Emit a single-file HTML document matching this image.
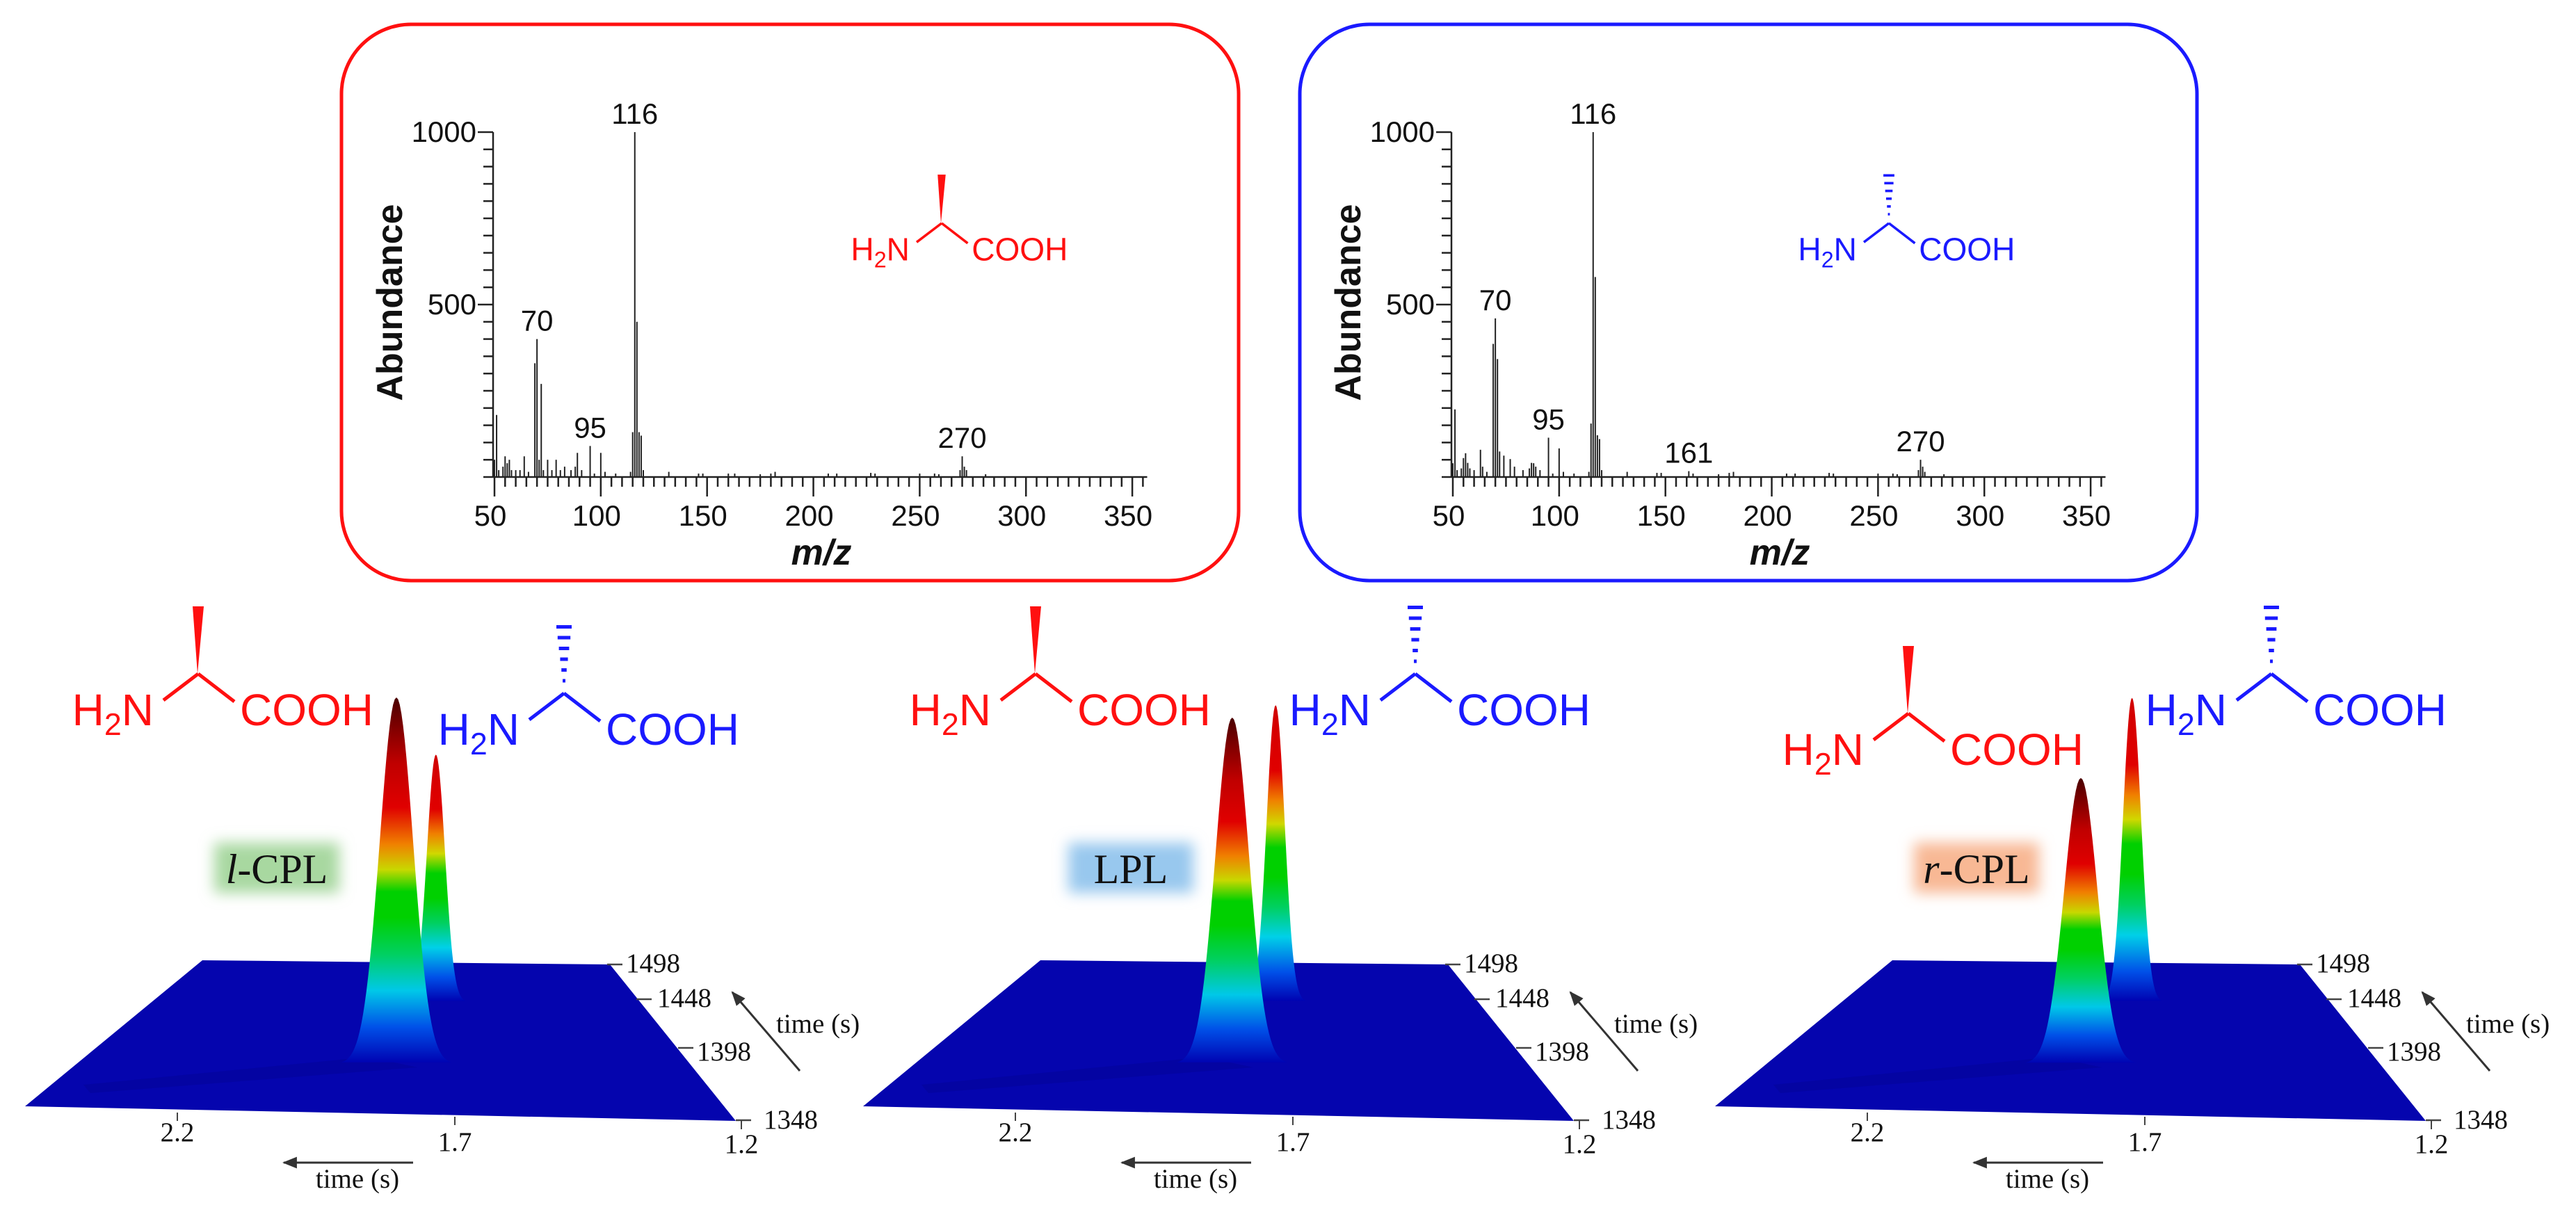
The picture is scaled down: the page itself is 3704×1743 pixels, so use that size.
<!DOCTYPE html>
<html><head><meta charset="utf-8">
<style>
html,body{margin:0;padding:0;background:#fff;}
svg{display:block;}
.tk{font-family:"Liberation Sans",sans-serif;font-size:42px;fill:#111;}
.sf{font-family:"Liberation Serif",serif;font-size:39px;fill:#111;}
.mol{font-family:"Liberation Sans",sans-serif;}
</style></head>
<body>
<svg id="fig" xmlns="http://www.w3.org/2000/svg" width="3704" height="1743" viewBox="0 0 3704 1743">
<defs>
<filter id="glow" x="-30%" y="-50%" width="160%" height="200%"><feGaussianBlur stdDeviation="10"/></filter>
<marker id="ah" viewBox="0 0 10 10" refX="9" refY="5" markerWidth="7" markerHeight="7" orient="auto"><path d="M0,1 L10,5 L0,9 Z" fill="#333"/></marker>
</defs>
<g id="top-panels"></g>
<g id="bottom-panels"></g>
</svg>
<script>
// ---------- mass spectra data (m/z, abundance) ----------
const redMz  = [50,51,52,54,55,56,57,58,60,62,64,66,69,70,71,72,73,75,77,79,81,83,86,88,89,91,95,97,100,102,107,114,115,116,117,118,119,120,132,146,148,160,163,175,180,182,207,211,227,229,250,257,259,269,270,271,272,281];
const redAb  = [50,180,20,30,60,40,50,20,20,20,60,15,330,400,50,270,20,50,20,50,20,30,20,30,70,20,90,10,70,15,10,15,130,1000,450,130,120,20,15,10,10,10,10,8,10,15,10,10,12,10,10,10,8,20,60,30,20,8];
const blueMz = [50,51,52,54,55,56,57,58,60,63,64,66,69,70,71,72,74,77,79,83,86,87,88,89,91,95,97,100,102,107,114,115,116,117,118,119,120,132,146,148,161,163,175,180,182,207,211,227,229,250,257,259,269,270,271,272,281];
const blueAb = [40,196,20,25,55,69,41,25,20,79,30,15,386,460,342,74,62,52,30,20,25,41,40,30,20,114,10,83,15,10,15,155,1000,580,121,110,20,15,12,12,17,10,8,12,15,10,10,12,10,10,10,8,20,50,30,15,8];
const xTickLabels = [50,100,150,200,250,300,350];
const yTickLabels = [500,1000];
const redLabels  = [70,95,116,270];
const blueLabels = [70,95,116,161,270];

// ---------- 2D chromatogram surface peaks ----------
const panelNames = ["l-CPL","LPL","r-CPL"];
const redRt   = [1.805,1.809,1.815];
const blueRt  = [1.734,1.731,1.723];
const redInt  = [1.00,0.945,0.78];
const blueInt = [0.675,0.81,0.83];
const rtTicks = ["2.2","1.7","1.2"];
const t1Ticks = ["1498","1448","1398","1348"];

const NS="http://www.w3.org/2000/svg";
function mk(tag, attrs, parent){
  const e=document.createElementNS(NS,tag);
  for(const k in attrs) e.setAttribute(k,attrs[k]);
  if(parent) parent.appendChild(e);
  return e;
}

function molecule(parent, cx, cy, s, color, type, name){
  const g=mk('g',{},parent);
  
  
  const fs=64*s;
  mk('line',{x1:cx,y1:cy,x2:cx-50*s,y2:cy+38*s,stroke:color,'stroke-width':5*s},g);
  mk('line',{x1:cx,y1:cy,x2:cx+52*s,y2:cy+40*s,stroke:color,'stroke-width':5*s},g);
  if(type==='wedge'){
    mk('path',{d:`M${cx-1},${cy} L${cx-8*s},${cy-97*s} L${cx+8*s},${cy-97*s} Z`,fill:color},g);
  } else {
    for(let i=0;i<6;i++){
      const y=cy-18*s-i*15.5*s, w=(2+i*1.8)*s;
      mk('line',{x1:cx-w,y1:y,x2:cx+w,y2:y,stroke:color,'stroke-width':5*s},g);
    }
  }
  const t1=mk('text',{x:cx-64*s,y:cy+74*s,'text-anchor':'end',class:'mol',fill:color,'font-size':fs},g);
  t1.innerHTML='H<tspan font-size="'+(fs*0.7)+'" dy="'+(fs*0.22)+'">2</tspan><tspan dy="'+(-fs*0.22)+'">N</tspan>';
  const t2=mk('text',{x:cx+60*s,y:cy+74*s,class:'mol',fill:color,'font-size':fs},g);
  t2.textContent='COOH';
}

function spectrum(ox, mz, ab, labels, color, molType, name){
  const top=document.getElementById('top-panels');
  const g=mk('g',{},top);
  
  
  const box=mk('rect',{x:491+ox,y:35,width:1290,height:800,rx:100,ry:100,fill:'none',stroke:color,'stroke-width':5},g);
  
  
  const X0=709+ox, Y0=686;
  const xs=v=>X0+2+(v-50)*3.057;
  const ys=v=>Y0-v*0.496;
  const ax=mk('g',{stroke:'#222','stroke-width':2.5},g);
  
  
  mk('line',{x1:X0,y1:Y0,x2:xs(357),y2:Y0},ax);
  mk('line',{x1:X0,y1:Y0,x2:X0,y2:ys(1000)},ax);
  for(let v=0;v<=1000;v+=50){
    const L=(v%500===0&&v>0)?22:14;
    mk('line',{x1:X0-L,y1:ys(v),x2:X0,y2:ys(v)},ax);
  }
  for(let v=50;v<=355;v+=5){
    const L=(v%50===0)?28:14;
    mk('line',{x1:xs(v),y1:Y0,x2:xs(v),y2:Y0+L},ax);
  }
  xTickLabels.forEach(v=>{
    const t=mk('text',{x:xs(v)-6,y:756,'text-anchor':'middle',class:'tk'},g);
    
    
    t.textContent=v;
  });
  yTickLabels.forEach(v=>{
    const t=mk('text',{x:X0-24,y:ys(v)+14,'text-anchor':'end',class:'tk'},g);
    
    
    t.textContent=v;
  });
  const bars=mk('g',{stroke:'#222','stroke-width':2},g);
  mz.forEach((m,i)=>{
    const b=mk('line',{x1:xs(m),y1:Y0,x2:xs(m),y2:ys(ab[i])},bars);
    
    
  });
  labels.forEach(m=>{
    const i=mz.indexOf(m);
    const t=mk('text',{x:xs(m),y:ys(ab[i])-12,'text-anchor':'middle',class:'tk'},g);
    
    
    t.textContent=m;
  });
  const yt=mk('text',{x:0,y:0,transform:`translate(${578+ox},435) rotate(-90)`,'text-anchor':'middle','font-family':'Liberation Sans, sans-serif','font-weight':'bold','font-size':52,fill:'#111'},g);
  
  
  yt.textContent='Abundance';
  const xt=mk('text',{x:1181+ox,y:812,'text-anchor':'middle','font-family':'Liberation Sans, sans-serif','font-weight':'bold','font-style':'italic','font-size':52,fill:'#111'},g);
  
  
  xt.textContent='m/z';
  molecule(g, molType==='wedge'?1354:2716, 321, 0.72, color, molType, name+'-structure');
}
spectrum(0, redMz, redAb, redLabels, '#ff1010', 'wedge', 'l-alanine-spectrum');
spectrum(1378, blueMz, blueAb, blueLabels, '#1a1aff', 'hash', 'd-alanine-spectrum');

const panelOff=[0,1205,2430];
const glowCols=['#a8d8a0','#98c8ee','#f8b894'];
const molPos=[[[285,969],[811,997]],[[1489,969],[2035,969]],[[2744,1026],[3266,969]]];
const jetDark=[[0,'#0000b0'],[0.1,'#0050e8'],[0.2,'#00c8e8'],[0.3,'#00d060'],[0.4,'#00d000'],[0.47,'#00d000'],[0.53,'#c8d800'],[0.6,'#f08000'],[0.7,'#e00000'],[0.82,'#c00000'],[1,'#4a0000']];
const jetRed=[[0,'#0000b0'],[0.1,'#0050e8'],[0.22,'#00d0e8'],[0.32,'#00d060'],[0.42,'#00d000'],[0.52,'#00d000'],[0.6,'#d0d800'],[0.68,'#f08000'],[0.78,'#e00000'],[1,'#d00000']];
const defs=document.querySelector('defs');
let gid=0;
function peak(parent, cx, baseY, intensity, sigma, stops, name){
  const H=intensity*527;
  const id='jg'+(gid++);
  const lg=mk('linearGradient',{id:id,gradientUnits:'userSpaceOnUse',x1:0,y1:baseY,x2:0,y2:baseY-H},defs);
  stops.forEach(s=>mk('stop',{offset:s[0],'stop-color':s[1]},lg));
  let d='';
  for(let k=-3.3;k<=3.3001;k+=0.1){
    const x=cx+k*sigma, y=baseY-H*Math.exp(-k*k/2);
    d+=(d?'L':'M')+x.toFixed(1)+','+y.toFixed(1);
  }
  d+='Z';
  const p=mk('path',{d:d,fill:`url(#${id})`},parent);
  
  
}
panelNames.forEach((nm,i)=>{
  const ox=panelOff[i];
  const g=mk('g',{},document.getElementById('bottom-panels'));
  
  
  const pl=mk('polygon',{points:`${291+ox},1381 ${877+ox},1387 ${1058+ox},1612 ${36+ox},1591`,fill:'#0505ae'},g);
  
  
  const rx=rt=>ox+654+(1.7-rt)*800;
  mk('path',{d:`M${120+ox},1560 L${rx(redRt[i])-40},1520 L${rx(redRt[i])+30},1535 L${130+ox},1572Z`,fill:'#030390',opacity:0.4},g);
  peak(g, rx(blueRt[i]), 1441, blueInt[i], 13, jetRed, 'peak-d-alanine');
  peak(g, rx(redRt[i]), 1530, redInt[i], 24, jetDark, 'peak-l-alanine');
  const tpos=[[873,1387,900,1398],[915,1437,945,1448],[975,1507,1002,1525],[1058,1611,1098,1623]];
  t1Ticks.forEach((t,j)=>{
    const q=tpos[j];
    mk('line',{x1:q[0]+ox,y1:q[1],x2:q[0]+22+ox,y2:q[1],stroke:'#444','stroke-width':2.5},g);
    const tx=mk('text',{x:q[2]+ox,y:q[3],class:'sf'},g);
    
    
    tx.textContent=t;
  });
  const bpos=[[255,1600,1641],[654,1606,1655],[1066,1612,1658]];
  rtTicks.forEach((t,j)=>{
    const q=bpos[j];
    mk('line',{x1:q[0]+ox,y1:q[1],x2:q[0]+ox,y2:q[1]+12,stroke:'#444','stroke-width':2},g);
    const tx=mk('text',{x:q[0]+ox,y:q[2],'text-anchor':'middle',class:'sf'},g);
    
    
    tx.textContent=t;
  });
  mk('line',{x1:594+ox,y1:1672,x2:408+ox,y2:1672,stroke:'#333','stroke-width':3,'marker-end':'url(#ah)'},g);
  const a1=mk('text',{x:514+ox,y:1708,'text-anchor':'middle',class:'sf'},g);
  
  
  a1.textContent='time (s)';
  mk('line',{x1:1150+ox,y1:1540,x2:1053+ox,y2:1427,stroke:'#333','stroke-width':3,'marker-end':'url(#ah)'},g);
  const a2=mk('text',{x:1116+ox,y:1485,class:'sf'},g);
  
  
  a2.textContent='time (s)';
  const lx=[398,1626,2842][i]-ox;
  mk('rect',{x:lx-90+ox,y:1212,width:180,height:72,fill:glowCols[i],filter:'url(#glow)'},g);
  const lt=mk('text',{x:lx+ox,y:1270,'text-anchor':'middle','font-family':'Liberation Serif, serif','font-size':60,fill:'#111'},g);
  
  
  if(nm==='LPL') lt.textContent='LPL';
  else lt.innerHTML='<tspan font-style="italic">'+nm[0]+'</tspan>-CPL';
  molecule(g, molPos[i][0][0], molPos[i][0][1], 1, '#ff1010', 'wedge', 'l-alanine-structure');
  molecule(g, molPos[i][1][0], molPos[i][1][1], 1, '#1a1aff', 'hash', 'd-alanine-structure');
});
</script>
</body></html>
